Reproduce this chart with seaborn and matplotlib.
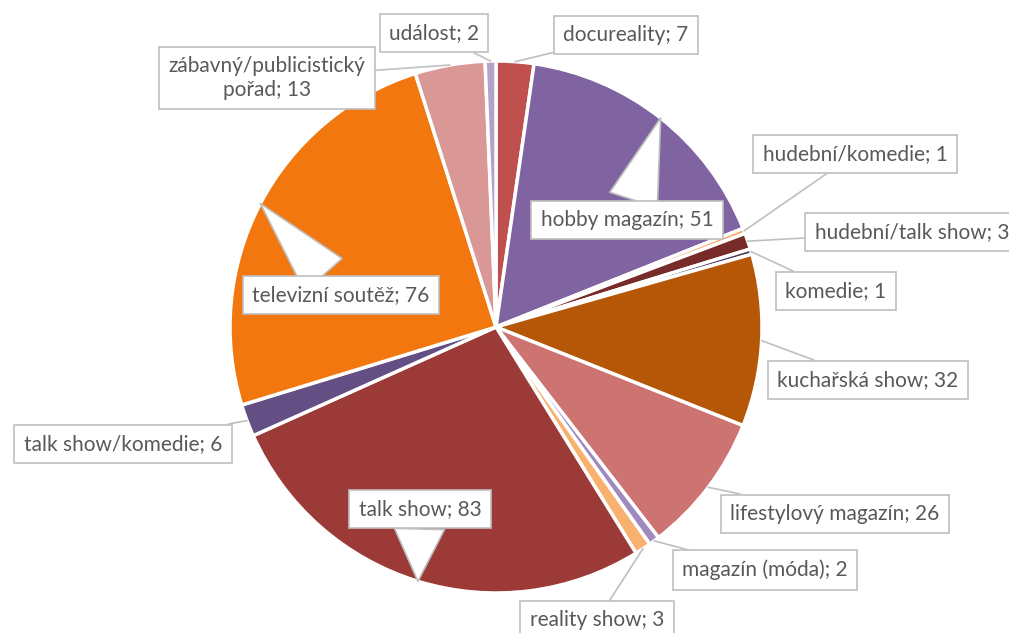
import matplotlib.pyplot as plt
import seaborn as sns
import numpy as np

# data
categories = ['docureality', 'hobby magazín', 'hudební/komedie', 'hudební/talk show',
              'komedie', 'kuchařská show', 'lifestylový magazín', 'magazín (móda)',
              'reality show', 'talk show', 'talk show/komedie', 'televizní soutěž',
              'zábavný/publicistický\npořad', 'událost']
counts = [7, 51, 1, 3, 1, 32, 26, 2, 3, 83, 6, 76, 13, 2]
colors = ['#C0504D', '#8064A2', '#F9A566', '#772C2A', '#4D3B62', '#B65708', '#CD7371',
          '#9F8AC0', '#F9B16F', '#9C3A38', '#644F84', '#F2770E', '#D99795', '#B3A2C7']

sns.set_style('white')
plt.rcParams['font.family'] = ['Lato', 'DejaVu Sans']

W, H = 1009, 633
fig = plt.figure(figsize=(W / 100, H / 100), dpi=100)
ax = fig.add_axes([0, 0, 1, 1])

cx, cy, r = 496, H - 327, 266
wedges, _ = ax.pie(counts, colors=colors, startangle=90, counterclock=False,
                   center=(cx, cy), radius=r, frame=True,
                   wedgeprops=dict(edgecolor='white', linewidth=2.5))
ax.set_xlim(0, W)
ax.set_ylim(0, H)
ax.set_aspect('equal')
ax.axis('off')

# label box centres (pixels from top-left), callout inside?
label_pos = {
    0: (626, 35, False), 1: (627, 220, True), 2: (855, 154, False),
    3: (912, 232, False), 4: (836, 291, False), 5: (868, 380, False),
    6: (835, 514, False), 7: (765, 570, False), 8: (597, 620, False),
    9: (420, 509, True), 10: (123, 444, False), 11: (341, 295, True),
    12: (267, 78, False), 13: (434, 33, False),
}

for i, w in enumerate(wedges):
    ang = np.deg2rad((w.theta1 + w.theta2) / 2)
    px, py = cx + r * np.cos(ang), cy + r * np.sin(ang)
    lx, ly, inside = label_pos[i]
    txt = f'{categories[i]}; {counts[i]}'
    if inside:
        arrow = dict(arrowstyle='wedge,tail_width=2.4,shrink_factor=0.5',
                     fc='white', ec='#BFBFBF', lw=1.2, shrinkA=0, shrinkB=0)
    else:
        arrow = dict(arrowstyle='-', color='#BFBFBF', lw=1.2, shrinkA=0, shrinkB=0)
    ax.annotate(txt, xy=(px, py), xytext=(lx, H - ly), ha='center', va='center',
                fontsize=15, color='#595959', linespacing=1.2,
                bbox=dict(boxstyle='square,pad=0.45', fc='white', ec='#BFBFBF', lw=1.2),
                arrowprops=arrow, annotation_clip=False)

fig.savefig('out.png', dpi=100)
